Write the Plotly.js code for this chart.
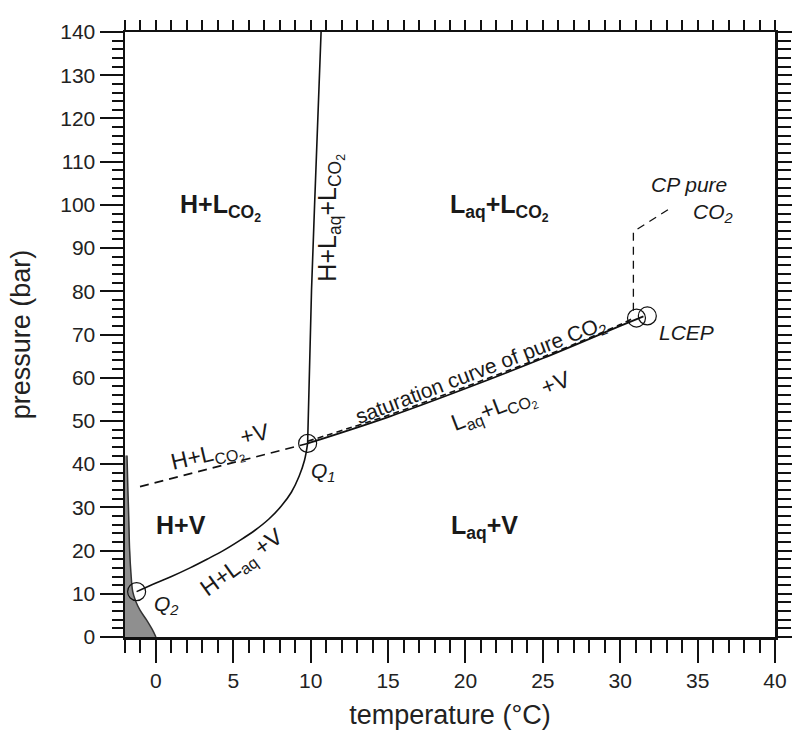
<!DOCTYPE html>
<html>
<head>
<meta charset="utf-8">
<script src="https://cdn.plot.ly/plotly-3.0.1.min.js"></script>
<style>html,body{margin:0;padding:0;background:#fff;}#chart{width:792px;height:731px;}</style>
</head>
<body>
<div id="chart"></div>
<script>
// ice melting curve (shaded region boundary)
const iceT = [-1.87, -1.82, -1.76, -1.70, -1.62, -1.50, -1.30, -1.03, -0.60, -0.25, 0.0];
const iceP = [42, 35, 28, 20, 15, 10.5, 8.2, 6.2, 3.9, 1.8, 0];
// H+Laq+V curve (Q2 -> Q1)
const hlvT = [-1.25, 0, 1.0, 2.2, 3.3, 4.4, 5.4, 6.4, 7.3, 8.1, 8.75, 9.25, 9.6, 9.8];
const hlvP = [10.5, 12.5, 14.0, 16.0, 18.0, 20.1, 22.3, 24.7, 27.3, 30.3, 33.5, 37.2, 40.9, 44.8];
// H+Laq+LCO2 curve (Q1 -> top)
const hllT = [9.8, 9.9, 10.05, 10.25, 10.45, 10.67];
const hllP = [44.8, 60, 80, 100, 120, 140];
// H+LCO2+V (dashed)
const hcvT = [-1.03, 9.8];
const hcvP = [34.8, 44.8];
// saturation curve of pure CO2 (dashed)
const satT = [9.8, 15, 20, 25, 30, 30.85];
const satP = [45.3, 51.3, 57.9, 64.8, 72.3, 73.8];
// Laq+LCO2+V (solid)
const llvT = [9.8, 15, 20, 25, 30, 31.5];
const llvP = [44.8, 50.9, 57.5, 64.5, 72.0, 74.2];
// invariant points (Q2, Q1, CP, LCEP)
const ptT = [-1.25, 9.8, 31.05, 31.75];
const ptP = [10.5, 44.8, 73.8, 74.3];
// CP pure CO2 leader
const cpT = [30.85, 30.85, 33.4];
const cpP = [75.5, 93.8, 99.6];

// region labels (bold)
const regText = ['H+L<sub>CO<sub>2</sub></sub>', 'L<sub>aq</sub>+L<sub>CO<sub>2</sub></sub>', 'H+V', 'L<sub>aq</sub>+V'];
const regT = [4.14, 22.2, 1.6, 21.2];
const regP = [99.5, 99.5, 25.9, 25.4];

// curve labels
const lblText = ['H+L<sub>aq</sub>+L<sub>CO<sub>2</sub></sub>', 'H+L<sub>CO<sub>2</sub></sub>', 'H+L<sub>aq</sub>',
  'saturation curve of pure CO<sub>2</sub>', 'L<sub>aq</sub>+L<sub>CO<sub>2</sub></sub>', '+V', '+V', '+V'];
const lblT = [11.3, 3.3, 4.7, 21.0, 21.8, 6.35, 7.25, 25.8];
const lblP = [97, 41.7, 14.6, 61.5, 52.5, 47.0, 21.9, 58.8];
const lblAngle = [-90, -13, -36, -21, -21, -13, -36, -21];
const lblSize = [25, 23, 23, 21, 23, 23, 23, 23];

// italic point labels
const itText = ['Q<sub>1</sub>', 'Q<sub>2</sub>', 'LCEP', 'CP pure', 'CO<sub>2</sub>'];
const itT = [10.8, 0.65, 34.3, 34.45, 36.0];
const itP = [38.2, 7.4, 70.4, 104.6, 98.1];

const FONT = 'Liberation Sans, Arial, Helvetica, sans-serif';
const traces = [
  {x: [-2].concat(iceT, [-2]), y: [42].concat(iceP, [0]), mode: 'lines', fill: 'toself',
   fillcolor: '#8f8f8f', line: {color: 'rgba(0,0,0,0)', width: 0}, hoverinfo: 'skip'},
  {x: iceT, y: iceP, mode: 'lines', line: {color: '#333', width: 1.5, shape: 'spline'}},
  {x: hlvT, y: hlvP, mode: 'lines', line: {color: '#111', width: 1.6, shape: 'spline'}},
  {x: hllT, y: hllP, mode: 'lines', line: {color: '#111', width: 1.6}},
  {x: hcvT, y: hcvP, mode: 'lines', line: {color: '#111', width: 1.6, dash: '9px,6px'}},
  {x: llvT, y: llvP, mode: 'lines', line: {color: '#111', width: 1.8, shape: 'spline'}},
  {x: satT, y: satP, mode: 'lines', line: {color: '#111', width: 1.6, dash: '6px,4px', shape: 'spline'}},
  {x: cpT, y: cpP, mode: 'lines', line: {color: '#111', width: 1.3, dash: '8px,6px'}},
  {x: ptT, y: ptP, mode: 'markers', marker: {symbol: 'circle-open', size: 18, color: '#111', line: {width: 1.2, color: '#111'}}},
  {x: [], y: [], xaxis: 'x2', yaxis: 'y2', mode: 'markers'}
];

const ann = [];
regText.forEach((t, i) => ann.push({x: regT[i], y: regP[i], xref: 'x', yref: 'y', text: '<b>' + t + '</b>', showarrow: false,
  font: {family: FONT, size: 25, color: '#1a1a1a'}}));
lblText.forEach((t, i) => ann.push({x: lblT[i], y: lblP[i], xref: 'x', yref: 'y', text: t, showarrow: false, textangle: lblAngle[i],
  font: {family: FONT, size: lblSize[i], color: '#1a1a1a'}}));
itText.forEach((t, i) => ann.push({x: itT[i], y: itP[i], xref: 'x', yref: 'y', text: '<i>' + t + '</i>', showarrow: false,
  font: {family: FONT, size: 21, color: '#1a1a1a'}}));

const common = {showgrid: false, zeroline: false, showline: true, linecolor: '#111', linewidth: 2.5, tickcolor: '#111', tickwidth: 2};
const layout = {
  width: 792, height: 731,
  margin: {l: 125, r: 17, t: 32, b: 94},
  paper_bgcolor: '#fff', plot_bgcolor: '#fff',
  showlegend: false,
  font: {family: FONT, color: '#222'},
  xaxis: Object.assign({}, common, {range: [-2, 40], tick0: 0, dtick: 5, ticks: 'outside', ticklen: 23,
    tickfont: {family: FONT, size: 21, color: '#222'},
    minor: {dtick: 1, tick0: 0, ticks: 'outside', ticklen: 13, tickwidth: 2, tickcolor: '#111', showgrid: false},
    title: {text: 'temperature (°C)', font: {family: FONT, size: 27, color: '#222'}, standoff: 15}}),
  yaxis: Object.assign({}, common, {range: [0, 140], tick0: 0, dtick: 10, ticks: 'outside', ticklen: 23,
    tickfont: {family: FONT, size: 21, color: '#222'},
    minor: {dtick: 2, tick0: 0, ticks: 'outside', ticklen: 11, tickwidth: 2, tickcolor: '#111', showgrid: false},
    title: {text: 'pressure (bar)', font: {family: FONT, size: 27, color: '#222'}, standoff: 22}}),
  xaxis2: Object.assign({}, common, {range: [-2, 40], overlaying: 'x', side: 'top', anchor: 'y2', tick0: 0, dtick: 1,
    ticks: 'outside', ticklen: 10, showticklabels: false}),
  yaxis2: Object.assign({}, common, {range: [0, 140], overlaying: 'y', side: 'right', anchor: 'x2', tick0: 0, dtick: 10,
    ticks: 'outside', ticklen: 16, showticklabels: false,
    minor: {dtick: 2, tick0: 0, ticks: 'outside', ticklen: 13, tickwidth: 2, tickcolor: '#111', showgrid: false}}),
  annotations: ann
};
Plotly.newPlot('chart', traces, layout, {displayModeBar: false, staticPlot: true});
</script>
</body>
</html>
